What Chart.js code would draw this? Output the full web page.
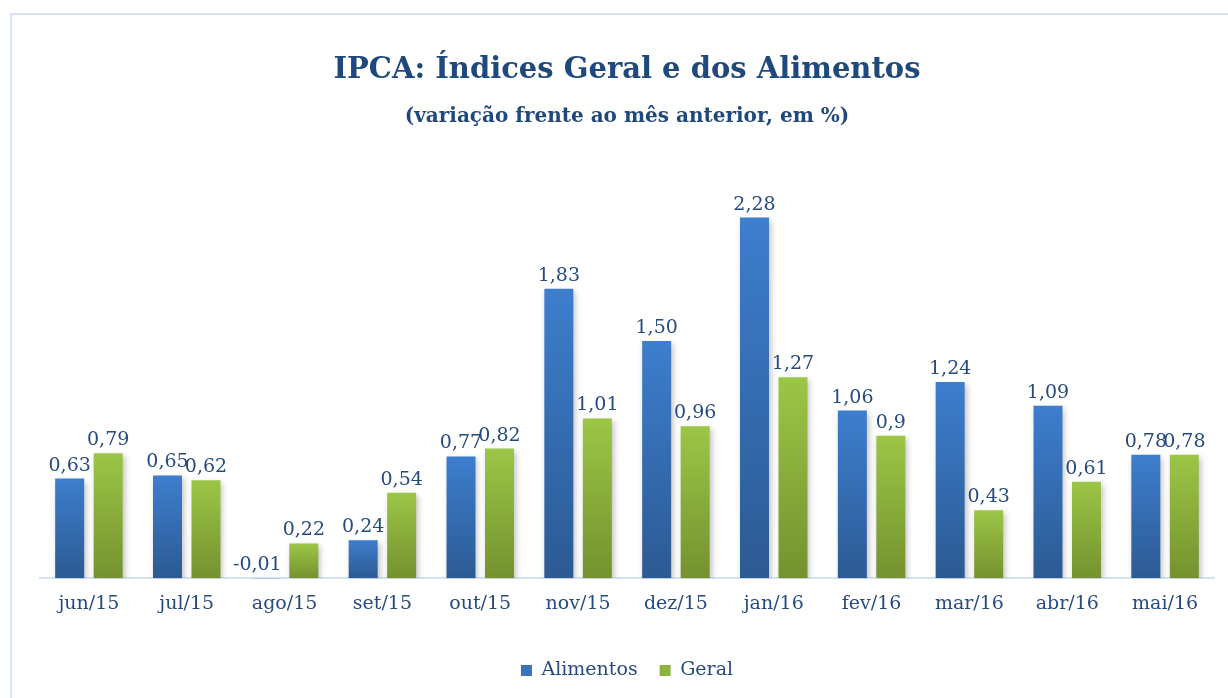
<!DOCTYPE html>
<html>
<head>
<meta charset="utf-8">
<script src="https://cdn.jsdelivr.net/npm/chart.js@4.4.1/dist/chart.umd.min.js"></script>
<style>
  html, body { margin: 0; padding: 0; background: #fff; }
  #wrap { position: relative; width: 1228px; height: 698px; }
</style>
</head>
<body>
<div id="wrap"><canvas id="c" width="1228" height="698"></canvas></div>
<script>
const categories = ["jun/15","jul/15","ago/15","set/15","out/15","nov/15","dez/15","jan/16","fev/16","mar/16","abr/16","mai/16"];
const alimentos = [0.63, 0.65, -0.01, 0.24, 0.77, 1.83, 1.50, 2.28, 1.06, 1.24, 1.09, 0.78];
const geral = [0.79, 0.62, 0.22, 0.54, 0.82, 1.01, 0.96, 1.27, 0.9, 0.43, 0.61, 0.78];
const alimentosLabels = ["0,63","0,65","-0,01","0,24","0,77","1,83","1,50","2,28","1,06","1,24","1,09","0,78"];
const geralLabels = ["0,79","0,62","0,22","0,54","0,82","1,01","0,96","1,27","0,9","0,43","0,61","0,78"];
const seriesNames = ["Alimentos", "Geral"];

const TEXT = '#264B7E';
const FONT = 'DejaVu Serif';

function gradientFill(top, bottom) {
  return function(ctx) {
    const chart = ctx.chart;
    const y = chart.scales && chart.scales.y;
    if (!chart.chartArea || !y || ctx.type !== 'data') return top;
    const v = ctx.raw;
    const y0 = y.getPixelForValue(0);
    const y1 = y.getPixelForValue(v);
    if (Math.abs(y1 - y0) < 1) return bottom;
    const g = chart.ctx.createLinearGradient(0, Math.min(y0, y1), 0, Math.max(y0, y1));
    g.addColorStop(0, top);
    g.addColorStop(1, bottom);
    return g;
  };
}

const bgPlugin = {
  id: 'bg',
  beforeDraw(chart) {
    const c = chart.ctx;
    c.save();
    c.fillStyle = '#ffffff';
    c.fillRect(0, 0, chart.width, chart.height);
    c.strokeStyle = '#D5E3F4';
    c.lineWidth = 2;
    c.beginPath();
    c.moveTo(11, chart.height);
    c.lineTo(11, 14);
    c.lineTo(chart.width, 14);
    c.stroke();
    c.restore();
  }
};

const shadowPlugin = {
  id: 'shadow',
  beforeDatasetsDraw(chart) {
    const c = chart.ctx;
    c.save();
    c.shadowColor = 'rgba(0,0,0,0.25)';
    c.shadowBlur = 6;
    c.shadowOffsetX = 2;
    c.shadowOffsetY = 3;
  },
  afterDatasetsDraw(chart) {
    chart.ctx.restore();
  }
};

const labelPlugin = {
  id: 'valueLabels',
  afterDatasetsDraw(chart) {
    const c = chart.ctx;
    const texts = [alimentosLabels, geralLabels];
    c.save();
    c.fillStyle = TEXT;
    c.font = '19px "' + FONT + '"';
    c.textAlign = 'center';
    c.textBaseline = 'alphabetic';
    const y0 = chart.scales.y.getPixelForValue(0);
    chart.data.datasets.forEach((ds, di) => {
      const meta = chart.getDatasetMeta(di);
      meta.data.forEach((bar, i) => {
        const top = Math.min(bar.y, y0);
        let x = bar.x;
        if (ds.data[i] < 0) x -= 8;
        c.fillText(texts[di][i], x, top - 8);
      });
    });
    c.restore();
  }
};

new Chart(document.getElementById('c'), {
  type: 'bar',
  data: {
    labels: categories,
    datasets: [
      { label: seriesNames[0], data: alimentos, backgroundColor: gradientFill('#3D7ECE', '#2C5A93'), solid: '#3A73BC' },
      { label: seriesNames[1], data: geral, backgroundColor: gradientFill('#9CC646', '#74922F'), solid: '#8DB43E' }
    ]
  },
  options: {
    responsive: false,
    animation: false,
    devicePixelRatio: 1,
    layout: { padding: { left: 40, right: 14, top: 0, bottom: 8 } },
    datasets: {
      bar: { categoryPercentage: 0.787, barPercentage: 0.753 }
    },
    scales: {
      x: {
        grid: { display: false },
        border: { display: true, color: '#D5E3F4', width: 2 },
        ticks: { color: TEXT, font: { family: FONT, size: 19 }, padding: 6 },
        afterFit(scale) { scale.height += 18; }
      },
      y: {
        display: false,
        min: 0,
        max: 2.5
      }
    },
    plugins: {
      title: {
        display: true,
        text: 'IPCA: Índices Geral e dos Alimentos',
        color: '#1F497D',
        font: { family: FONT, size: 29, weight: 'bold' },
        padding: { top: 53, bottom: 17 }
      },
      subtitle: {
        display: true,
        text: '(variação frente ao mês anterior, em %)',
        color: '#1F497D',
        font: { family: FONT, size: 20, weight: 'bold' },
        padding: { top: 0, bottom: 54 }
      },
      legend: {
        position: 'bottom',
        labels: {
          color: TEXT,
          font: { family: FONT, size: 19 },
          boxWidth: 11,
          boxHeight: 11,
          padding: 22,
          generateLabels(chart) {
            return chart.data.datasets.map((ds, i) => ({
              text: ds.label,
              fillStyle: ds.solid,
              strokeStyle: ds.solid,
              lineWidth: 0,
              fontColor: TEXT,
              datasetIndex: i,
              hidden: false
            }));
          }
        }
      },
      tooltip: { enabled: false }
    }
  },
  plugins: [bgPlugin, shadowPlugin, labelPlugin]
});
</script>
</body>
</html>
